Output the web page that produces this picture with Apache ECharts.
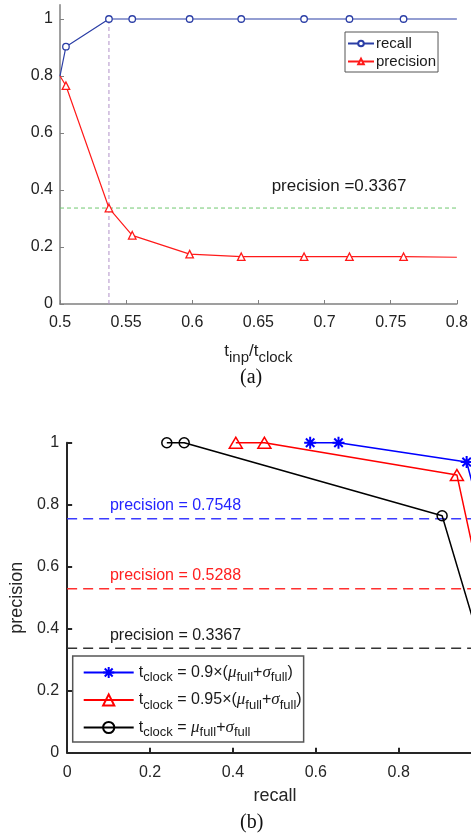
<!DOCTYPE html>
<html><head><meta charset="utf-8">
<script src="https://cdn.jsdelivr.net/npm/echarts@6/dist/echarts.min.js"></script>
<style>html,body{margin:0;padding:0;background:#fff}#c{width:471px;height:835px}</style>
</head><body><div id="c"></div>
<script>
// ---------- panel (a) ----------
const ratioA = [0.5, 0.5045, 0.537, 0.5546, 0.598, 0.637, 0.6845, 0.7188, 0.7597, 0.8];
const recallA = [0.8, 0.903, 1, 1, 1, 1, 1, 1, 1, 1];
const precisionA = [0.8, 0.766, 0.3367, 0.241, 0.175, 0.166, 0.166, 0.166, 0.166, 0.164];
const markedA = [false, true, true, true, true, true, true, true, true, false];
const thresholdA = 0.3367;
const chosenRatioA = 0.537;
const xRangeA = [0.5, 0.8];
const yTicksA = [0, 0.2, 0.4, 0.6, 0.8, 1];

// ---------- panel (b) ----------
const recall09 = [0.5864, 0.6548, 0.964, 1];
const precision09 = [1, 1, 0.9377, 0.7548];
const recall095 = [0.407, 0.476, 0.9405, 1];
const precision095 = [1, 1, 0.896, 0.5288];
const recall10 = [0.2405, 0.2824, 0.9048, 1];
const precision10 = [1, 1, 0.7645, 0.3367];
const thresholdsB = [0.7548, 0.5288, 0.3367];
const xTicksB = [0, 0.2, 0.4, 0.6, 0.8];
const xRangeB = [0, 0.9745];   // the figure is cropped just before recall = 1
const xFullB = [0, 1];

const chart = echarts.init(document.getElementById('c'), null, {renderer: 'canvas'});
const FONT = 'Liberation Sans, Arial, sans-serif';
const ASTER = 'path://M0,-10L0,10M-10,0L10,0M-7.07,-7.07L7.07,7.07M-7.07,7.07L7.07,-7.07';

function pts(xs, ys, marked) {
  return xs.map((x, i) => marked ? {value: [x, ys[i]], symbol: marked[i] ? undefined : 'none'} : [x, ys[i]]);
}

const grayAxis = {lineStyle: {color: '#808080', width: 1.5}};
const blackAxis = {lineStyle: {color: '#262626', width: 2}};

const legendRich = {
  t: {fontSize: 16, color: '#1a1a1a', fontFamily: FONT},
  s: {fontSize: 13, color: '#1a1a1a', fontFamily: FONT, padding: [10, 0, 0, 0]},
  g: {fontSize: 17, color: '#1a1a1a', fontFamily: 'Liberation Serif, serif', fontStyle: 'italic'}
};
const legendLabels = {
  's09': '{t|t}{s|clock}{t| = 0.9×(}{g|μ}{s|full}{t|+}{g|σ}{s|full}{t|)}',
  's095': '{t|t}{s|clock}{t| = 0.95×(}{g|μ}{s|full}{t|+}{g|σ}{s|full}{t|)}',
  's10': '{t|t}{s|clock}{t| = }{g|μ}{s|full}{t|+}{g|σ}{s|full}'
};

const option = {
  animation: false,
  backgroundColor: '#fff',
  textStyle: {fontFamily: FONT},
  grid: [
    {left: 60, top: 4.75, width: 399, height: 299.25, containLabel: false},
    {left: 61.7, top: 442.7, width: 409.3, height: 310, containLabel: false}
  ],
  xAxis: [
    {
      gridIndex: 0, type: 'value', min: xRangeA[0], max: xRangeA[1], interval: 0.05,
      axisLine: grayAxis, splitLine: {show: false},
      axisTick: {inside: true, length: 4, lineStyle: {color: '#808080', width: 1}},
      axisLabel: {color: '#222', fontSize: 16, margin: 11},
      name: '{t|t}{s|inp}{t|/t}{s|clock}', nameLocation: 'middle', nameGap: 34,
      nameTextStyle: {rich: {
        t: {fontSize: 17, color: '#222', fontFamily: FONT},
        s: {fontSize: 15, color: '#222', fontFamily: FONT, padding: [12, 0, 0, 0]}
      }}
    },
    {
      gridIndex: 1, type: 'value', min: xRangeB[0], max: xRangeB[1],
      axisLine: blackAxis, splitLine: {show: false},
      axisTick: {inside: true, length: 5, customValues: xTicksB, lineStyle: {color: '#262626', width: 2}},
      axisLabel: {color: '#262626', fontSize: 16, margin: 12, customValues: xTicksB},
      name: 'recall', nameLocation: 'middle', nameGap: 34,
      nameTextStyle: {fontSize: 18, color: '#262626', padding: [0, 0, 0, 12]}
    }
  ],
  yAxis: [
    {
      gridIndex: 0, type: 'value', min: 0, max: 1.05,
      axisLine: grayAxis, splitLine: {show: false},
      axisTick: {inside: true, length: 4, customValues: yTicksA, lineStyle: {color: '#808080', width: 1}},
      axisLabel: {color: '#222', fontSize: 16, margin: 7, customValues: yTicksA}
    },
    {
      gridIndex: 1, type: 'value', min: 0, max: 1, interval: 0.2,
      axisLine: blackAxis, splitLine: {show: false},
      axisTick: {inside: true, length: 5, lineStyle: {color: '#262626', width: 2}},
      axisLabel: {color: '#262626', fontSize: 16, margin: 8},
      name: 'precision', nameLocation: 'middle', nameGap: 36, nameRotate: 90,
      nameTextStyle: {fontSize: 18, color: '#262626'}
    }
  ],
  legend: [
    {
      data: ['recall', 'precision'], orient: 'vertical', left: 345, top: 32,
      padding: [4, 2, 3, 2], itemGap: 3, itemWidth: 26, itemHeight: 7,
      borderColor: '#555', borderWidth: 1, backgroundColor: '#fff',
      textStyle: {fontSize: 15, color: '#1a1a1a', padding: [0, 0, 0, -3]}
    },
    {
      data: ['s09', 's095', 's10'], orient: 'vertical', left: 72.7, top: 656,
      padding: [8, 2, 3, 10], itemGap: 7.5, itemWidth: 50, itemHeight: 14,
      borderColor: '#555', borderWidth: 1.5, backgroundColor: '#fff',
      formatter: n => legendLabels[n],
      textStyle: {rich: legendRich}
    }
  ],
  series: [
    // panel (a)
    {type: 'line', name: 'z1', xAxisIndex: 0, yAxisIndex: 0, silent: true, symbol: 'none',
     data: [[chosenRatioA, 0], [chosenRatioA, 1]],
     lineStyle: {color: '#b090c8', width: 1, type: [4, 3]}},
    {type: 'line', name: 'z2', xAxisIndex: 0, yAxisIndex: 0, silent: true, symbol: 'none',
     data: [[xRangeA[0], thresholdA], [xRangeA[1], thresholdA]],
     lineStyle: {color: '#70c870', width: 1, type: [4, 3]}},
    {type: 'line', name: 'recall', xAxisIndex: 0, yAxisIndex: 0,
     data: pts(ratioA, recallA, markedA), symbol: 'circle', symbolSize: 6.5,
     lineStyle: {color: '#2b3ea6', width: 1.2},
     itemStyle: {color: '#fff', borderColor: '#2b3ea6', borderWidth: 1.3}},
    {type: 'line', name: 'precision', xAxisIndex: 0, yAxisIndex: 0,
     data: pts(ratioA, precisionA, markedA), symbol: 'triangle', symbolSize: 7.5,
     lineStyle: {color: '#ff1a1a', width: 1.2},
     itemStyle: {color: '#fff', borderColor: '#ff1a1a', borderWidth: 1.3}},
    // panel (b) thresholds
    {type: 'line', name: 'd1', xAxisIndex: 1, yAxisIndex: 1, silent: true, symbol: 'none',
     data: [[xFullB[0], thresholdsB[0]], [xFullB[1], thresholdsB[0]]],
     lineStyle: {color: '#3b3bff', width: 1.5, type: [10, 6]}},
    {type: 'line', name: 'd2', xAxisIndex: 1, yAxisIndex: 1, silent: true, symbol: 'none',
     data: [[xFullB[0], thresholdsB[1]], [xFullB[1], thresholdsB[1]]],
     lineStyle: {color: '#ff3030', width: 1.5, type: [10, 6]}},
    {type: 'line', name: 'd3', xAxisIndex: 1, yAxisIndex: 1, silent: true, symbol: 'none',
     data: [[xFullB[0], thresholdsB[2]], [xFullB[1], thresholdsB[2]]],
     lineStyle: {color: '#333', width: 1.5, type: [10, 6]}},
    // panel (b) curves
    {type: 'line', name: 's09', xAxisIndex: 1, yAxisIndex: 1,
     data: pts(recall09, precision09), symbol: ASTER, symbolSize: 12,
     lineStyle: {color: '#0000ff', width: 1.5},
     itemStyle: {color: 'none', borderColor: '#0000ff', borderWidth: 2}},
    {type: 'line', name: 's095', xAxisIndex: 1, yAxisIndex: 1,
     data: pts(recall095, precision095), symbol: 'triangle', symbolSize: [13, 11],
     lineStyle: {color: '#ff0000', width: 1.5},
     itemStyle: {color: 'none', borderColor: '#ff0000', borderWidth: 1.5}},
    {type: 'line', name: 's10', xAxisIndex: 1, yAxisIndex: 1,
     data: pts(recall10, precision10), symbol: 'circle', symbolSize: 10,
     lineStyle: {color: '#000', width: 1.5},
     itemStyle: {color: 'none', borderColor: '#000', borderWidth: 1.5}}
  ]
};
chart.setOption(option);

// annotations positioned through the axes
const pA = chart.convertToPixel({gridIndex: 0}, [0.66, thresholdA]);
const labB = thresholdsB.map(v => chart.convertToPixel({gridIndex: 1}, [0.1033, v]));
const labColors = ['#2424ff', '#ff2020', '#1a1a1a'];
const graphics = [
  {type: 'text', left: pA[0], top: pA[1] - 30, style: {text: 'precision =0.3367', fontSize: 17, fill: '#1a1a1a', fontFamily: FONT}},
  {type: 'text', left: 240, top: 368, style: {text: '(a)', fontSize: 20, fill: '#111', fontFamily: 'Liberation Serif, serif'}},
  {type: 'text', left: 240, top: 813, style: {text: '(b)', fontSize: 20, fill: '#111', fontFamily: 'Liberation Serif, serif'}}
];
thresholdsB.forEach((v, i) => {
  graphics.push({type: 'text', left: labB[i][0], top: labB[i][1] - 21,
    style: {text: 'precision = ' + v.toFixed(4), fontSize: 16, fill: labColors[i], fontFamily: FONT}});
});
chart.setOption({graphic: graphics});
</script>
</body></html>
